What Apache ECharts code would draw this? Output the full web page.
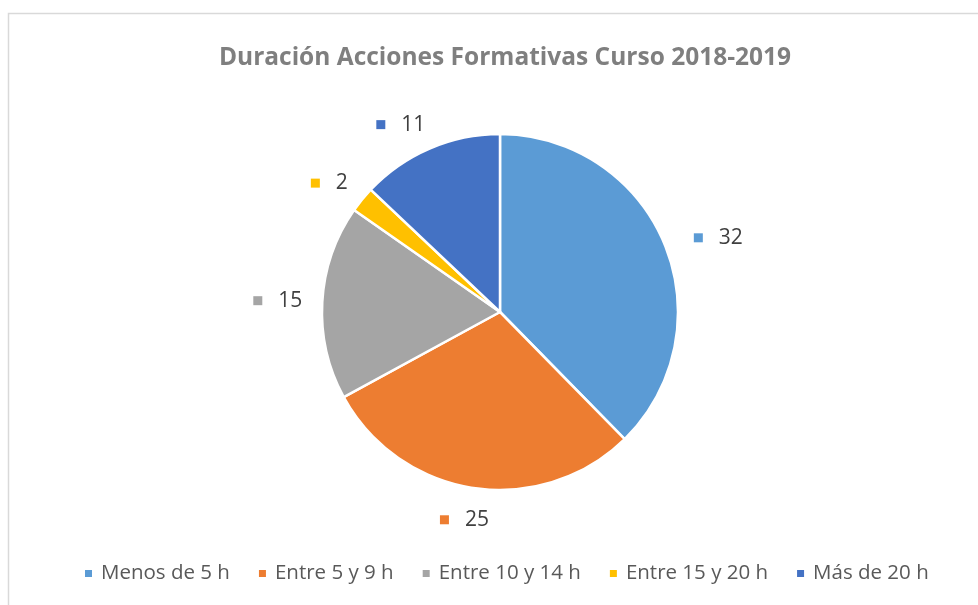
<!DOCTYPE html>
<html>
<head>
<meta charset="utf-8">
<script src="https://cdn.jsdelivr.net/npm/echarts@6/dist/echarts.min.js"></script>
<style>
  html, body { margin: 0; padding: 0; background: #fff; }
  #main { width: 978px; height: 605px; }
</style>
</head>
<body>
<div id="main"></div>
<script>
// datos del gráfico
var categorias = ['Menos de 5 h', 'Entre 5 y 9 h', 'Entre 10 y 14 h', 'Entre 15 y 20 h', 'Más de 20 h'];
var valores = [32, 25, 15, 2, 11];
var colores = ['#5B9BD5', '#ED7D31', '#A5A5A5', '#FFC000', '#4472C4'];

var chart = echarts.init(document.getElementById('main'));

var datos = categorias.map(function (c, i) {
  return {
    name: c,
    value: valores[i],
    label: {
      rich: {
        sq: { width: 9, height: 9, backgroundColor: colores[i] }
      }
    }
  };
});

var option = {
  color: colores,
  graphic: [{
    type: 'rect',
    shape: { x: 8.5, y: 13.5, width: 1100, height: 800 },
    style: { fill: 'none', stroke: '#d9d9d9', lineWidth: 1.5 },
    silent: true
  }],
  title: {
    text: 'Duración Acciones Formativas Curso 2018-2019',
    left: 500,
    textAlign: 'center',
    top: 41,
    textStyle: {
      fontFamily: 'Open Sans',
      fontSize: 24.5,
      fontWeight: 'bold',
      color: '#7f7f7f'
    }
  },
  legend: {
    bottom: 16,
    left: 78,
    icon: 'rect',
    itemWidth: 9,
    itemHeight: 9,
    itemGap: 27,
    textStyle: { fontFamily: 'Open Sans', fontSize: 20.5, color: '#595959', padding: [0, 0, 0, 3] },
    data: categorias
  },
  series: [{
    type: 'pie',
    center: [500, 312],
    radius: 178,
    startAngle: 90,
    clockwise: true,
    avoidLabelOverlap: false,
    itemStyle: { borderColor: '#fff', borderWidth: 2.5 },
    label: {
      show: true,
      position: 'outside',
      formatter: '{sq|}{g|}{v|{c}}',
      rich: {
        g: { width: 16 },
        v: { fontFamily: 'Open Sans', fontSize: 21, color: '#404040' }
      }
    },
    labelLine: { show: false, length: 26, length2: 0 },
    // ajuste fino de etiquetas a la izquierda y abajo
    labelLayout: function (p) {
      if (p.dataIndex === 1) return { dx: 24, dy: 6 };
      if (p.dataIndex === 0) return { dx: 0, dy: 3 };
      return { dx: 11 };
    },
    emphasis: { disabled: true },
    data: datos
  }]
};

chart.setOption(option);
</script>
</body>
</html>
